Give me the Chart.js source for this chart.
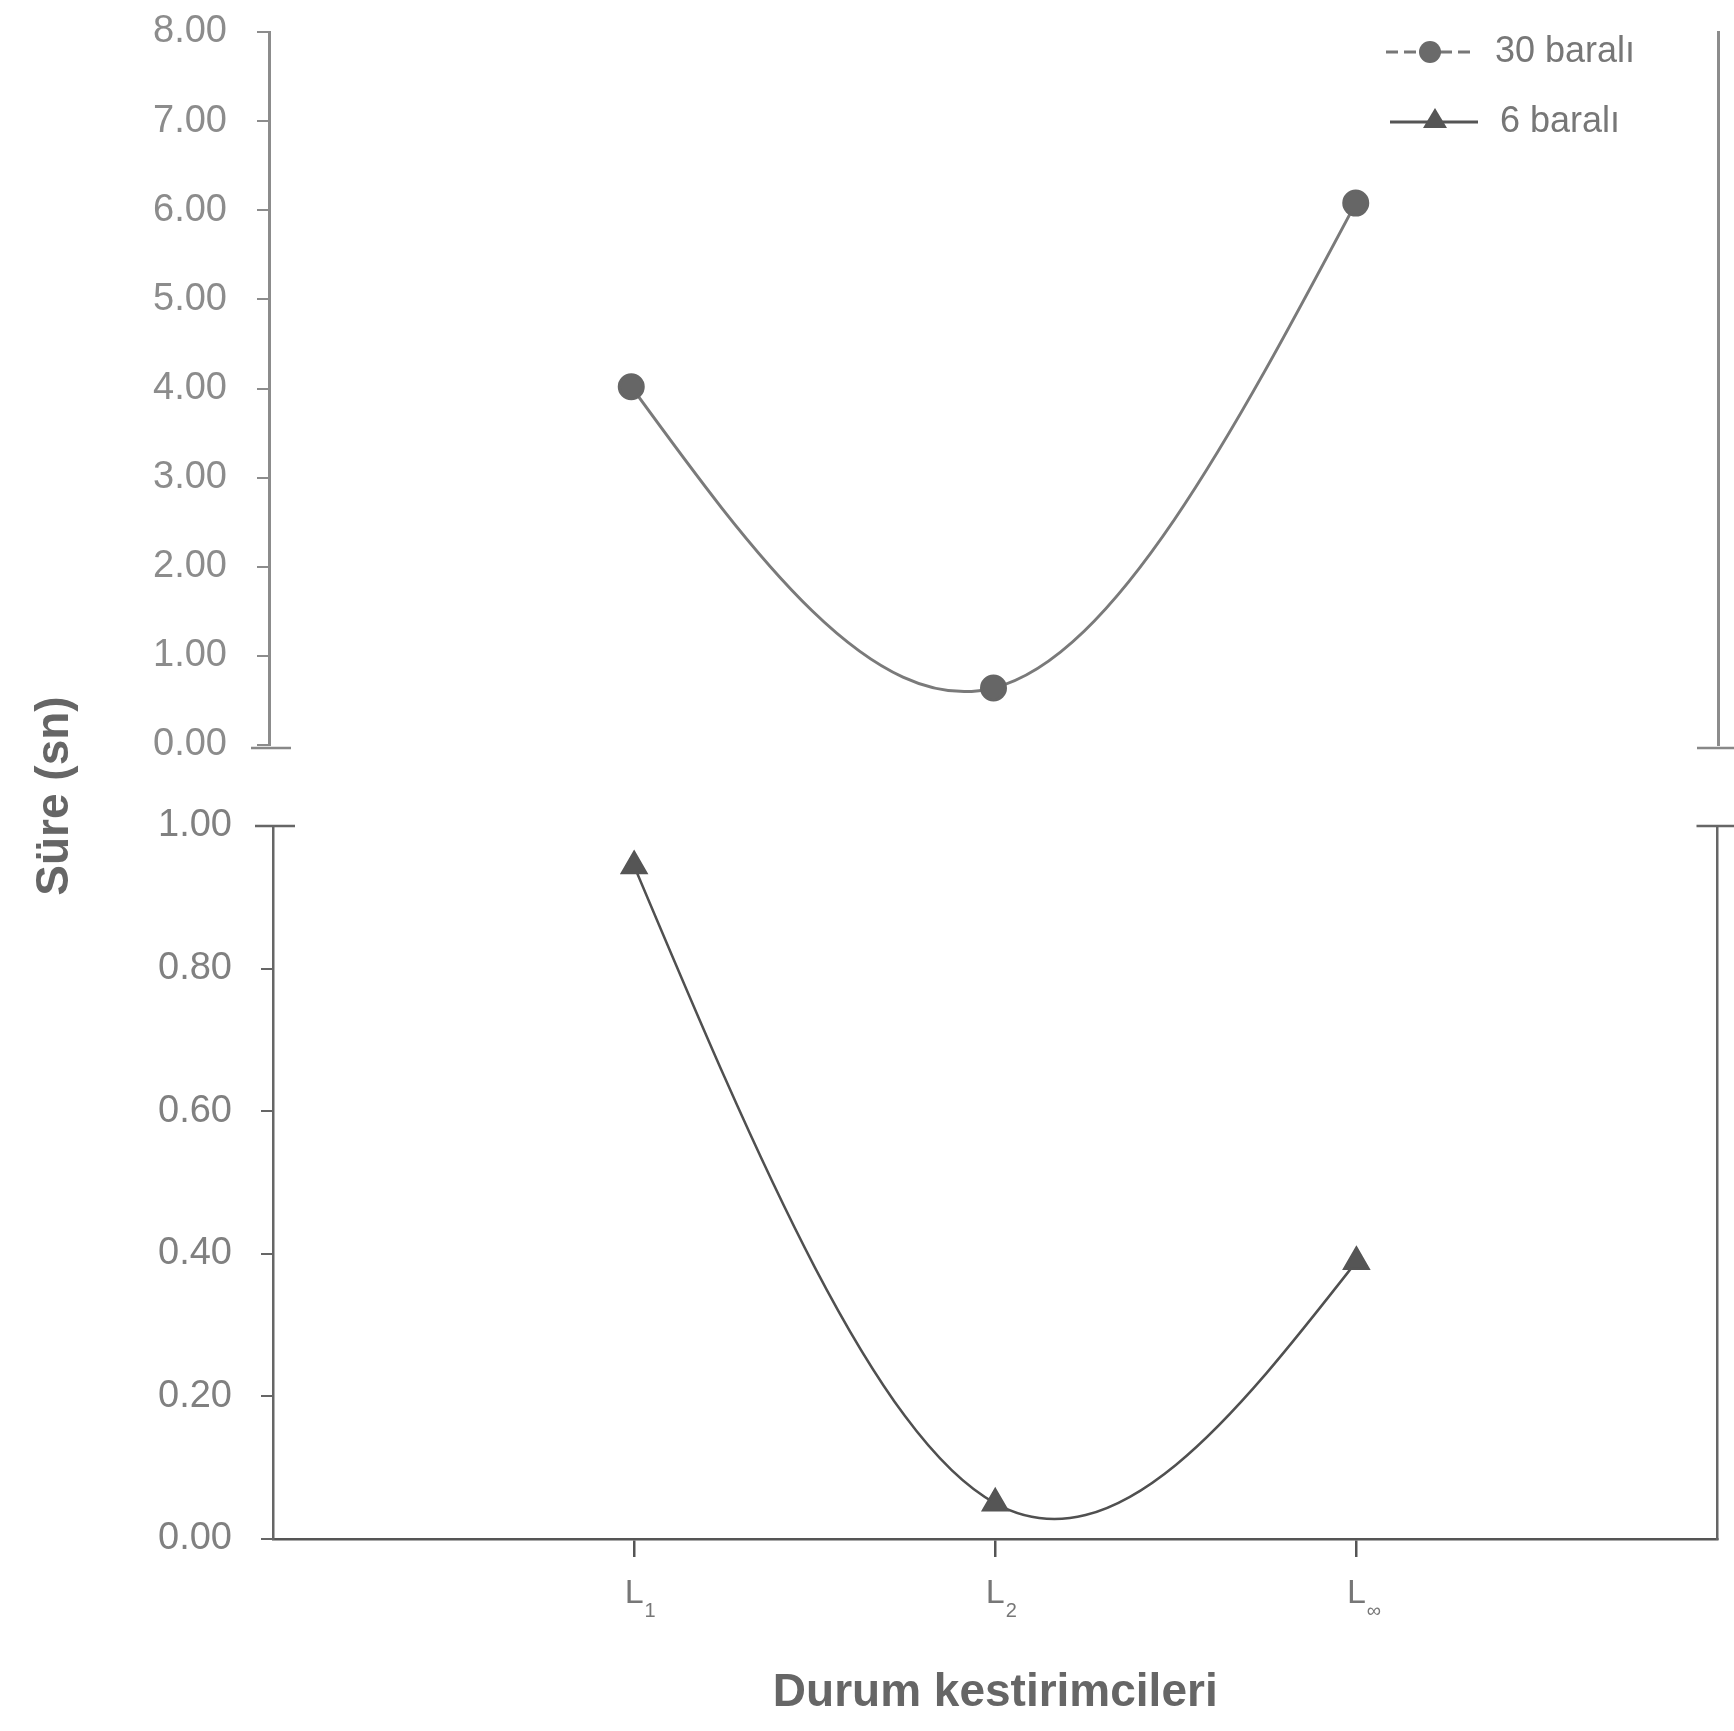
<!DOCTYPE html>
<html>
<head>
<meta charset="utf-8">
<script src="https://cdn.jsdelivr.net/npm/chart.js@4/dist/chart.umd.min.js"></script>
<style>
  body { margin: 0; background: #fff; }
  #wrap { position: relative; width: 1734px; height: 1731px; overflow: hidden; }
  canvas { position: absolute; left: 0; }
  #topChart { top: 0; }
  #bottomChart { top: 760px; }
  #ytitle {
    position: absolute; left: -95px; top: 766px; width: 300px; height: 60px;
    line-height: 60px; text-align: center; transform: rotate(-90deg);
    font: bold 46px "Liberation Sans", Arial, sans-serif; color: #666;
  }
</style>
</head>
<body>
<div id="wrap">
  <canvas id="topChart" width="1734" height="800"></canvas>
  <canvas id="bottomChart" width="1734" height="971"></canvas>
  <div id="ytitle">Süre (sn)</div>
</div>
<script>
// data
const xPositions = [1, 2, 3];
const tickMain = ['L', 'L', 'L'];
const tickSub = ['1', '2', '∞'];
const bara30 = [4.02, 0.64, 6.08];
const bara6 = [0.944, 0.05, 0.389];
const legendLabels = ['30 baralı', '6 baralı'];

Chart.defaults.font.family = '"Liberation Sans", Arial, sans-serif';

function toPoints(values) {
  return values.map((v, i) => ({ x: xPositions[i], y: v }));
}

// keep the plot box where layout.padding puts it
function noEdgePadding(s) {
  s.paddingTop = 0;
  s.paddingBottom = 0;
}

// slopes of a natural cubic spline (like the old excel "smoothed line")
function naturalSlopes(xs, ys) {
  const n = xs.length;
  const h = [], d = [];
  for (let i = 0; i < n - 1; i++) {
    h[i] = xs[i + 1] - xs[i];
    d[i] = (ys[i + 1] - ys[i]) / h[i];
  }
  const a = [], b = [], c = [], r = [];
  a[0] = 0; b[0] = 2; c[0] = 1; r[0] = 3 * d[0];
  for (let i = 1; i < n - 1; i++) {
    a[i] = h[i]; b[i] = 2 * (h[i - 1] + h[i]); c[i] = h[i - 1];
    r[i] = 3 * (h[i] * d[i - 1] + h[i - 1] * d[i]);
  }
  a[n - 1] = 1; b[n - 1] = 2; c[n - 1] = 0; r[n - 1] = 3 * d[n - 2];
  for (let i = 1; i < n; i++) {
    const w = a[i] / b[i - 1];
    b[i] -= w * c[i - 1];
    r[i] -= w * r[i - 1];
  }
  const m = [];
  m[n - 1] = r[n - 1] / b[n - 1];
  for (let i = n - 2; i >= 0; i--) m[i] = (r[i] - c[i] * m[i + 1]) / b[i];
  return { m, h };
}

// replace chart.js bezier control points with natural spline ones
const naturalSpline = {
  id: 'naturalSpline',
  beforeDatasetDraw(chart, args) {
    const meta = args.meta;
    meta.dataset.updateControlPoints(chart.chartArea);
    const pts = meta.data;
    const { m, h } = naturalSlopes(pts.map(p => p.x), pts.map(p => p.y));
    pts.forEach((p, i) => {
      if (i > 0) { p.cp1x = p.x - h[i - 1] / 3; p.cp1y = p.y - m[i] * h[i - 1] / 3; }
      if (i < pts.length - 1) { p.cp2x = p.x + h[i] / 3; p.cp2y = p.y + m[i] * h[i] / 3; }
    });
  }
};

// short horizontal marks at the axis break
const breakMarks = {
  id: 'breakMarks',
  afterDraw(chart, args, opts) {
    const ctx = chart.ctx;
    const a = chart.chartArea;
    const y = opts.edge === 'bottom' ? a.bottom + 3 : a.top;
    ctx.save();
    ctx.strokeStyle = opts.color;
    ctx.lineWidth = 2.5;
    ctx.beginPath();
    ctx.moveTo(a.left - 18, y); ctx.lineTo(a.left + 22, y);
    ctx.moveTo(a.right - 21, y); ctx.lineTo(a.right + 20, y);
    ctx.stroke();
    ctx.restore();
  }
};

// legend with line + marker
const lineLegend = {
  id: 'lineLegend',
  afterDraw(chart) {
    const ctx = chart.ctx;
    ctx.save();
    ctx.lineWidth = 3;
    // row 1
    ctx.strokeStyle = '#777';
    ctx.setLineDash([12, 6]);
    ctx.beginPath(); ctx.moveTo(1386, 52); ctx.lineTo(1474, 52); ctx.stroke();
    ctx.setLineDash([]);
    ctx.fillStyle = '#6a6a6a';
    ctx.beginPath(); ctx.arc(1430, 52, 11, 0, Math.PI * 2); ctx.fill();
    // row 2
    ctx.strokeStyle = '#555';
    ctx.beginPath(); ctx.moveTo(1390, 122); ctx.lineTo(1478, 122); ctx.stroke();
    ctx.fillStyle = '#555';
    ctx.beginPath();
    ctx.moveTo(1435, 108); ctx.lineTo(1447, 128); ctx.lineTo(1423, 128);
    ctx.closePath(); ctx.fill();
    ctx.fillStyle = '#777';
    ctx.font = '36px "Liberation Sans", Arial, sans-serif';
    ctx.textBaseline = 'middle';
    ctx.fillText(legendLabels[0], 1495, 52);
    ctx.fillText(legendLabels[1], 1500, 122);
    ctx.restore();
  }
};

// subscripts on the x tick labels
const tickSubs = {
  id: 'tickSubs',
  afterDraw(chart) {
    const ctx = chart.ctx;
    const sx = chart.scales.x;
    ctx.save();
    ctx.font = '34px "Liberation Sans", Arial, sans-serif';
    const w = ctx.measureText('L').width;
    ctx.font = '20px "Liberation Sans", Arial, sans-serif';
    ctx.fillStyle = '#777';
    ctx.textBaseline = 'alphabetic';
    const base = chart.chartArea.bottom + 18 + 14 + 40;
    xPositions.forEach((v, i) => {
      const px = sx.getPixelForValue(v);
      ctx.fillText(tickSub[i], px + w / 2 + 1, base + 6);
    });
    ctx.restore();
  }
};

new Chart(document.getElementById('topChart'), {
  type: 'line',
  data: {
    datasets: [{
      label: legendLabels[0],
      data: toPoints(bara30),
      borderColor: '#7a7a7a',
      borderWidth: 3,
      tension: 0.4,
      pointStyle: 'circle',
      pointRadius: 12,
      pointBackgroundColor: '#666',
      pointBorderColor: '#666',
    }],
  },
  options: {
    responsive: false,
    animation: false,
    layout: { padding: { top: 32, bottom: 55, left: 0, right: 0 } },
    plugins: { legend: { display: false }, tooltip: { enabled: false }, breakMarks: { edge: 'bottom', color: '#888' } },
    scales: {
      x: { type: 'linear', min: 0, max: 4, display: false },
      y: {
        min: 0, max: 8,
        ticks: { stepSize: 1, padding: 30, color: '#8c8c8c', font: { size: 38 }, callback: v => v.toFixed(2) },
        grid: { drawOnChartArea: false, tickLength: 12, color: '#8c8c8c', lineWidth: 2 },
        border: { color: '#8c8c8c', width: 3 },
        afterFit: s => { s.width = 269; noEdgePadding(s); },
      },
      y2: {
        position: 'right', min: 0, max: 1,
        ticks: { display: false },
        grid: { display: false },
        border: { color: '#8c8c8c', width: 3 },
        afterFit: s => { s.width = 16; noEdgePadding(s); },
      },
    },
  },
  plugins: [naturalSpline, breakMarks, lineLegend],
});

new Chart(document.getElementById('bottomChart'), {
  type: 'line',
  data: {
    datasets: [{
      label: legendLabels[1],
      data: toPoints(bara6),
      borderColor: '#505050',
      borderWidth: 2.5,
      tension: 0.4,
      pointStyle: 'triangle',
      pointRadius: 14,
      pointBackgroundColor: '#555',
      pointBorderColor: '#555',
    }],
  },
  options: {
    responsive: false,
    animation: false,
    layout: { padding: { top: 66, bottom: 0, left: 0, right: 0 } },
    plugins: { legend: { display: false }, tooltip: { enabled: false }, breakMarks: { edge: 'top', color: '#666' } },
    scales: {
      x: {
        type: 'linear', min: 0, max: 4,
        afterBuildTicks: s => { s.ticks = xPositions.map(v => ({ value: v })); },
        ticks: {
          padding: 16, color: '#777', font: { size: 34 },
          callback: v => tickMain[xPositions.indexOf(v)] || '',
        },
        grid: { drawOnChartArea: false, tickLength: 18, color: '#555', lineWidth: 2.5 },
        border: { color: '#555', width: 2.5 },
        title: {
          display: true, text: 'Durum kestirimcileri', color: '#666',
          font: { size: 46, weight: 'bold' }, padding: { top: 0, bottom: 10 },
        },
        afterFit: s => { s.height = 192; },
      },
      y: {
        min: 0, max: 1,
        ticks: { stepSize: 0.2, padding: 29, color: '#808080', font: { size: 38 }, callback: v => v.toFixed(2) },
        grid: { drawOnChartArea: false, tickLength: 12, color: '#666', lineWidth: 2 },
        border: { color: '#666', width: 2.5 },
        afterFit: s => { s.width = 273; },
      },
      y2: {
        position: 'right', min: 0, max: 1,
        ticks: { display: false },
        grid: { display: false },
        border: { color: '#666', width: 2.5 },
        afterFit: s => { s.width = 14; },
      },
    },
  },
  plugins: [naturalSpline, breakMarks, tickSubs],
});
</script>
</body>
</html>
